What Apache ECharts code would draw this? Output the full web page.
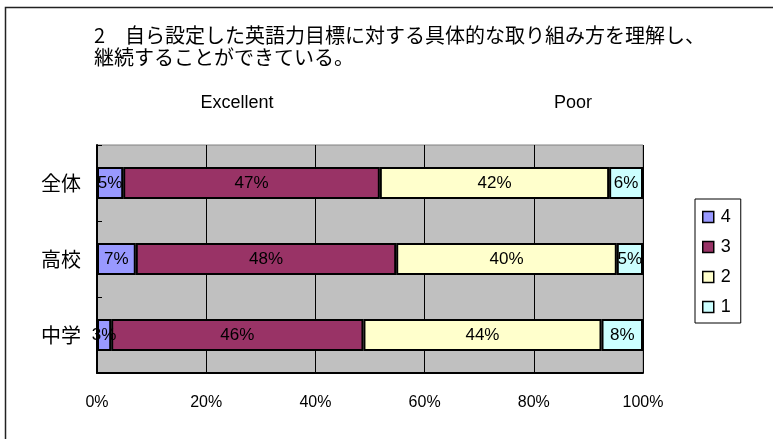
<!DOCTYPE html>
<html>
<head>
<meta charset="utf-8">
<script src="https://cdn.jsdelivr.net/npm/echarts@6/dist/echarts.min.js"></script>
<style>html,body{margin:0;padding:0;background:#fff}#c{width:773px;height:439px}</style>
</head>
<body>
<div id="c"></div>
<script>
const categories = ['全体', '高校', '中学'];
const seriesNames = ['4', '3', '2', '1'];
const s4 = [4.8, 7.1, 2.6];
const s3 = [47.0, 47.7, 46.2];
const s2 = [42.0, 40.4, 43.6];
const s1 = [6.2, 4.8, 7.6];
const xTicks = [0, 20, 40, 60, 80, 100];
const titleText = '2　自ら設定した英語力目標に対する具体的な取り組み方を理解し、\n継続することができている。';
const colors = ['#9999FF', '#993366', '#FFFFCC', '#CCFFFF'];
const seriesData = [s4, s3, s2, s1];

const latin = '"Liberation Sans", Arial, sans-serif';
const cjk = '"Noto Sans CJK JP", sans-serif';

const chart = echarts.init(document.getElementById('c'), null, {renderer: 'canvas'});
chart.setOption({
  animation: false,
  backgroundColor: '#fff',
  title: {
    text: titleText,
    left: 89,
    top: 19,
    textStyle: {fontSize: 20, lineHeight: 22, fontWeight: 'normal', color: '#000', fontFamily: cjk}
  },
  graphic: [
    {type: 'rect', silent: true, shape: {x: 5.5, y: 7.5, width: 820, height: 520},
     style: {fill: 'none', stroke: '#222', lineWidth: 1.5}},
    {type: 'text', x: 237, y: 103, style: {text: 'Excellent', fontSize: 18, fontFamily: latin, fill: '#000', align: 'center', verticalAlign: 'middle'}},
    {type: 'text', x: 573, y: 103, style: {text: 'Poor', fontSize: 18, fontFamily: latin, fill: '#000', align: 'center', verticalAlign: 'middle'}}
  ],
  legend: {
    orient: 'vertical',
    left: 695,
    top: 199,
    data: seriesNames,
    itemWidth: 11,
    itemHeight: 11,
    itemGap: 12,
    padding: [9, 10, 7, 7],
    borderColor: '#000',
    borderWidth: 1,
    icon: 'rect',
    itemStyle: {borderColor: '#000', borderWidth: 1.5},
    textStyle: {fontSize: 18, color: '#000', fontFamily: latin, padding: [0, 0, 0, 2]}
  },
  grid: {
    left: 97, right: 130, top: 145, bottom: 66,
    show: true, backgroundColor: '#C0C0C0', borderColor: '#808080', borderWidth: 1,
    containLabel: false
  },
  xAxis: {
    type: 'value',
    min: xTicks[0], max: xTicks[xTicks.length - 1], interval: 20,
    axisLine: {show: true, lineStyle: {color: '#000', width: 2}},
    axisTick: {show: false},
    splitLine: {show: true, lineStyle: {color: '#000', width: 1}},
    axisLabel: {formatter: '{value}%', fontSize: 16, color: '#000', fontFamily: latin, margin: 22}
  },
  yAxis: {
    type: 'category',
    inverse: true,
    data: categories,
    axisLine: {show: true, lineStyle: {color: '#000', width: 2}},
    axisTick: {show: true, inside: true, length: 5, lineStyle: {color: '#000'}},
    splitLine: {show: false},
    axisLabel: {fontSize: 20, color: '#000', fontFamily: cjk, margin: 16}
  },
  series: seriesNames.map((name, i) => ({
    name: name,
    type: 'bar',
    stack: 'total',
    barWidth: 32,
    data: seriesData[i],
    itemStyle: {color: colors[i], borderColor: '#000', borderWidth: 2},
    label: {
      show: true, position: 'inside', color: '#000', fontSize: 17, fontFamily: latin,
      formatter: p => Math.round(p.value) + '%'
    }
  }))
});
</script>
</body>
</html>
